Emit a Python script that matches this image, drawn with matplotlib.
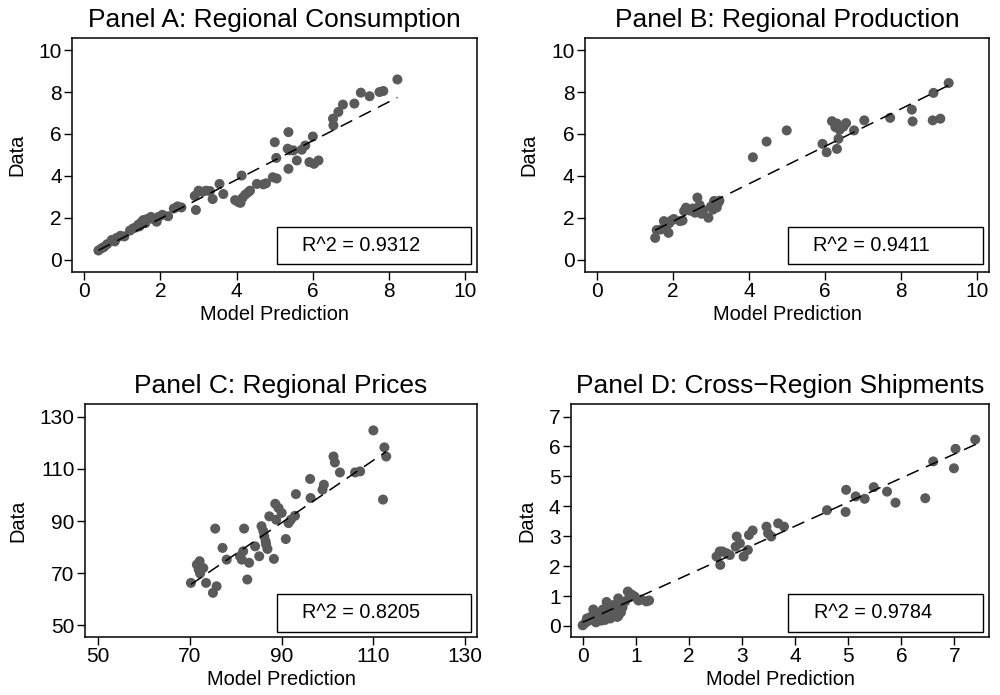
import matplotlib
matplotlib.use("Agg")
import matplotlib.pyplot as plt
from matplotlib.patches import Rectangle

plt.rcParams['font.family'] = ['Liberation Sans', 'DejaVu Sans']

# Panel A: regional consumption (model prediction, data)
cons_pred = [0.37, 0.45, 0.52, 0.60, 0.72, 0.80, 0.85, 0.95, 1.05, 1.20, 1.28, 1.35, 1.42, 1.45,
             1.50, 1.55, 1.60, 1.65, 1.75, 1.80, 1.90, 1.95, 2.05, 2.20, 2.35, 2.45, 2.55, 2.93,
             2.90, 3.00, 3.10, 3.20, 3.30, 3.37, 3.55, 3.65, 3.96, 4.05, 4.10, 4.13, 4.15, 4.22,
             4.30, 4.35, 4.53, 4.70, 4.77, 4.95, 5.05, 5.00, 5.04, 5.36, 5.34, 5.40, 5.36, 5.49,
             5.58, 5.71, 5.80, 6.00, 5.91, 6.03, 6.15, 6.53, 6.54, 6.67, 6.79, 7.09, 7.26, 7.49,
             7.75, 7.85, 8.22]
cons_data = [0.45, 0.55, 0.62, 0.75, 0.95, 0.88, 1.05, 1.15, 1.12, 1.40, 1.50, 1.55, 1.68, 1.60,
             1.80, 1.90, 1.75, 1.95, 2.05, 1.95, 1.82, 2.05, 2.15, 2.08, 2.45, 2.55, 2.50, 2.38,
             3.05, 3.30, 3.25, 3.30, 3.28, 2.90, 3.62, 3.14, 2.85, 2.75, 2.72, 4.02, 2.95, 3.10,
             3.22, 3.30, 3.62, 3.60, 3.65, 3.94, 3.88, 5.61, 4.86, 6.09, 5.30, 5.22, 4.34, 5.22,
             4.74, 5.25, 5.45, 5.88, 4.66, 4.58, 4.74, 6.73, 6.41, 7.05, 7.40, 7.45, 7.97, 7.80,
             8.00, 8.05, 8.60]

# Panel B: regional production
prod_pred = [1.53, 1.57, 1.68, 1.76, 1.82, 1.88, 1.90, 1.96, 2.02, 2.18, 2.25, 2.29, 2.34, 2.45,
             2.52, 2.58, 2.64, 2.70, 2.75, 2.80, 2.93, 3.00, 3.05, 3.08, 3.15, 3.19, 3.22, 4.10,
             4.46, 4.99, 5.93, 6.04, 6.18, 6.27, 6.31, 6.38, 6.31, 6.35, 6.48, 6.55, 6.76, 7.03,
             7.71, 8.28, 8.30, 8.85, 8.83, 9.03, 9.25]
prod_data = [1.05, 1.42, 1.45, 1.85, 1.60, 1.29, 1.75, 1.88, 1.95, 1.85, 1.88, 2.33, 2.49, 2.35,
             2.45, 2.25, 2.97, 2.62, 2.20, 2.38, 2.01, 2.55, 2.40, 2.81, 2.50, 2.73, 2.82, 4.89,
             5.64, 6.17, 5.53, 5.13, 6.61, 6.33, 6.50, 6.20, 5.29, 5.77, 6.35, 6.52, 6.17, 6.65,
             6.77, 7.16, 6.60, 7.96, 6.65, 6.73, 8.43]

# Panel C: regional prices
price_pred = [70.2, 71.5, 72.1, 71.9, 72.9, 72.2, 73.5, 75.0, 75.8, 75.5, 77.1, 78.0, 80.9, 81.3,
              81.6, 81.8, 82.5, 82.9, 84.2, 85.1, 85.6, 86.0, 86.2, 86.6, 86.9, 87.3, 88.3, 88.6,
              89.3, 90.0, 88.8, 90.9, 91.5, 92.0, 92.9, 93.1, 96.2, 96.3, 98.9, 99.2, 101.3, 101.6,
              102.7, 106.0, 107.1, 110.0, 112.4, 112.8, 112.1, 86.5]
price_data = [66.3, 73.3, 74.6, 71.4, 72.0, 69.9, 66.3, 62.5, 65.0, 87.1, 79.7, 75.2, 76.5, 75.2,
              78.4, 87.1, 67.6, 74.0, 80.3, 76.5, 88.0, 86.1, 84.1, 81.0, 79.3, 91.8, 75.5, 96.6,
              95.0, 93.1, 90.5, 83.1, 89.2, 90.5, 92.0, 100.3, 106.1, 98.8, 102.0, 103.9, 114.7, 112.4,
              108.6, 108.6, 109.0, 124.7, 118.2, 114.7, 98.2, 82.2]

# Panel D: cross-region shipments
ship_pred = [0.00, 0.05, 0.08, 0.12, 0.15, 0.20, 0.20, 0.25, 0.28, 0.30, 0.33, 0.35, 0.38, 0.40,
             0.42, 0.45, 0.45, 0.48, 0.50, 0.52, 0.55, 0.58, 0.60, 0.62, 0.65, 0.67, 0.70, 0.72,
             0.75, 0.80, 0.85, 0.88, 0.92, 0.98, 1.05, 1.10, 1.20, 1.25, 0.67,
             2.52, 2.59, 2.58, 2.71, 2.77, 2.90, 2.96, 3.03, 3.11, 3.13, 3.20, 3.46, 3.49, 3.55,
             3.68, 3.79, 2.63, 2.88,
             4.60, 4.96, 4.95, 5.14, 5.31, 5.48, 5.73, 5.89, 6.45, 6.60, 6.99, 7.02, 7.39]
ship_data = [0.02, 0.10, 0.25, 0.18, 0.30, 0.22, 0.55, 0.12, 0.35, 0.25, 0.40, 0.18, 0.55, 0.30,
             0.20, 0.48, 0.80, 0.62, 0.35, 0.25, 0.50, 0.70, 0.40, 0.58, 0.30, 0.92, 0.72, 0.45,
             0.62, 0.82, 1.15, 0.95, 1.05, 0.98, 0.85, 0.88, 0.82, 0.85, 0.33,
             2.32, 2.04, 2.49, 2.43, 2.37, 2.99, 2.76, 2.32, 2.54, 3.04, 3.19, 3.32, 3.10, 2.99,
             3.43, 3.32, 2.49, 2.65,
             3.87, 4.55, 3.81, 4.33, 4.25, 4.64, 4.49, 4.12, 4.27, 5.50, 5.27, 5.92, 6.23]

# fitted lines (endpoints)
fit_x = {"A": [0.37, 8.22], "B": [1.53, 9.25], "C": [70.2, 112.8], "D": [0.0, 7.4]}
fit_y = {"A": [0.46, 7.74], "B": [1.42, 8.32], "C": [65.7, 116.6], "D": [0.12, 6.07]}

titles = ["Panel A: Regional Consumption", "Panel B: Regional Production",
          "Panel C: Regional Prices", "Panel D: Cross\u2212Region Shipments"]
r2_labels = ["R^2 = 0.9312", "R^2 = 0.9411", "R^2 = 0.8205", "R^2 = 0.9784"]

fig = plt.figure(figsize=(10, 6.95), dpi=100)

# axes boxes in figure fractions, limits, ticks, R^2 box
panels = [
    ("A", cons_pred, cons_data, [0.0723, 0.6091, 0.4047, 0.3358], (-0.315, 10.31), (-0.56, 10.56),
     range(0, 11, 2), range(0, 11, 2), (0.505, 0.032, 0.48, 0.161), 0.567),
    ("B", prod_pred, prod_data, [0.585, 0.6091, 0.404, 0.3358], (-0.316, 10.31), (-0.56, 10.56),
     range(0, 11, 2), range(0, 11, 2), (0.503, 0.032, 0.482, 0.161), 0.565),
    ("C", price_pred, price_data, [0.085, 0.0839, 0.392, 0.3344], (47.1, 132.6), (45.7, 134.7),
     range(50, 131, 20), range(50, 131, 20), (0.489, 0.0215, 0.495, 0.1625), 0.553),
    ("D", ship_pred, ship_data, [0.571, 0.0839, 0.418, 0.3344], (-0.22, 7.65), (-0.36, 7.41),
     range(0, 8), range(0, 8), (0.52, 0.0215, 0.466, 0.1625), 0.581),
]

for i, (key, xs, ys, pos, xl, yl, xt, yt, box, tx) in enumerate(panels):
    ax = fig.add_axes(pos)
    ax.scatter(xs, ys, s=52, color='#5a5a5a', edgecolors='none', zorder=2)
    ax.plot(fit_x[key], fit_y[key], color='black', lw=1.1, linestyle=(0, (8.5, 5.2)), zorder=3)
    ax.set_xlim(xl)
    ax.set_ylim(yl)
    ax.set_xticks(list(xt))
    ax.set_yticks(list(yt))
    ax.tick_params(direction='out', length=5.5, width=1, labelsize=15, pad=2)
    for sp in ax.spines.values():
        sp.set_linewidth(1.1)
    ax.set_title(titles[i], fontsize=19, pad=8)
    ax.set_xlabel("Model Prediction", fontsize=14.4, labelpad=3)
    ax.set_ylabel("Data", fontsize=14.4, labelpad=9)
    ax.add_patch(Rectangle((box[0], box[1]), box[2], box[3], transform=ax.transAxes,
                           facecolor='white', edgecolor='black', lw=1, zorder=4))
    ax.text(tx, box[1] + box[3] / 2, r2_labels[i], transform=ax.transAxes,
            fontsize=14.3, ha='left', va='center', zorder=5)

fig.savefig("out.png", dpi=100)
